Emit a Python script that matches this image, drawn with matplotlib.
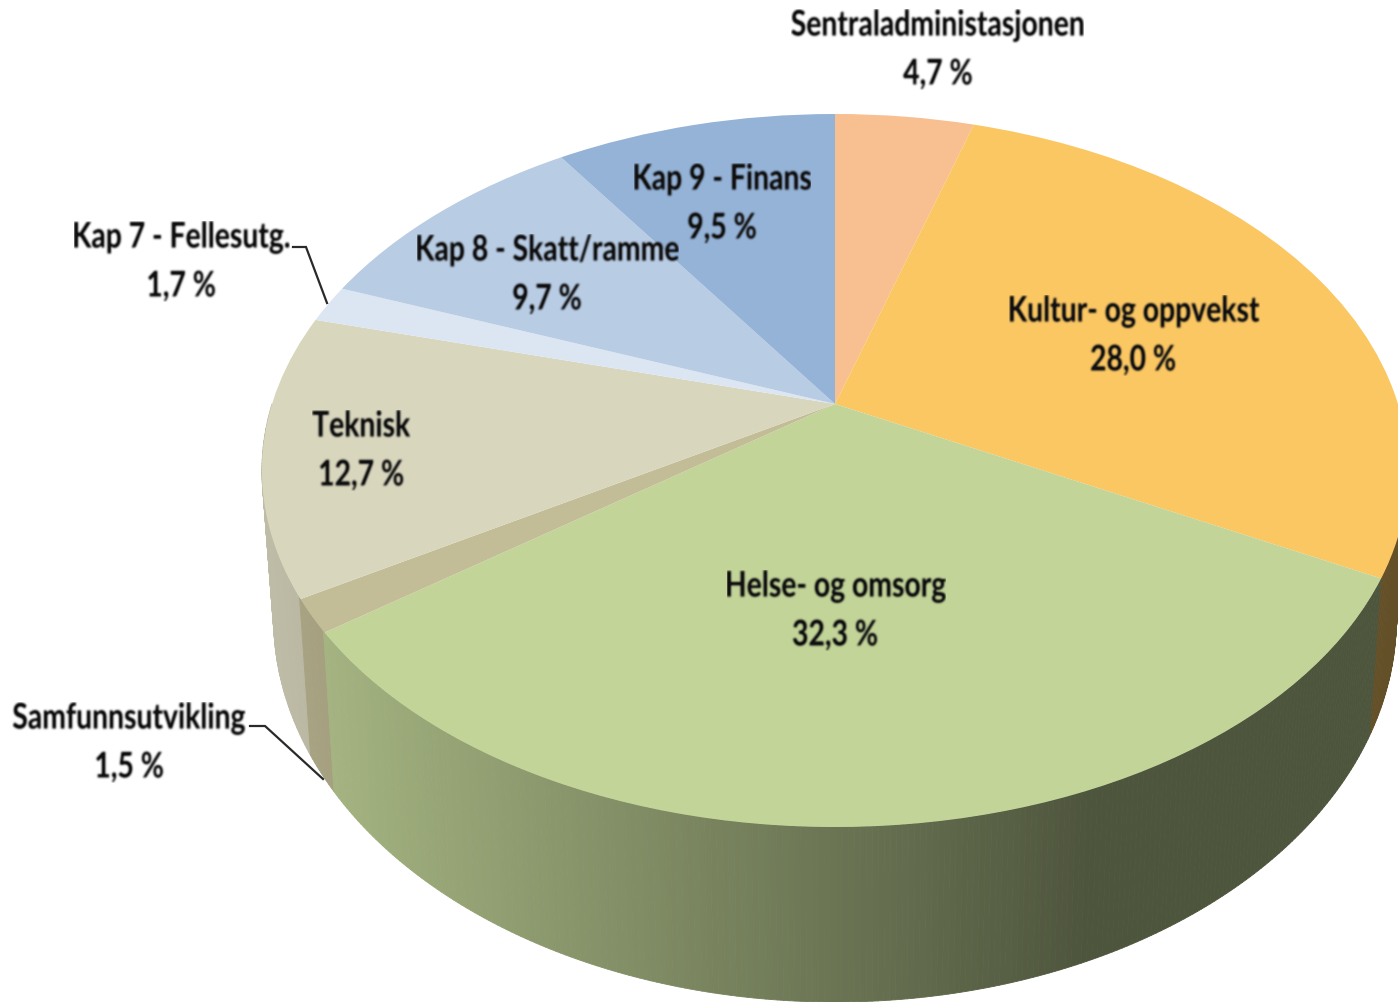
import numpy as np
import matplotlib
matplotlib.use("Agg")
import matplotlib.pyplot as plt
from matplotlib.transforms import Transform, Affine2D, Bbox
from matplotlib.collections import PolyCollection
from matplotlib.text import Text
from matplotlib.patheffects import AbstractPathEffect

names = ["Sentraladministasjonen", "Kultur- og oppvekst", "Helse- og omsorg", "Samfunnsutvikling",
         "Teknisk", "Kap 7 - Fellesutg.", "Kap 8 - Skatt/ramme", "Kap 9 - Finans"]
shares = [4.7, 28.0, 32.3, 1.5, 12.7, 1.7, 9.7, 9.5]
top_colors = ["#f8bf90", "#fbc763", "#c2d498", "#c3bd97", "#d9d6be", "#dce6f2", "#b8cce4", "#95b3d7"]
label_xy = [(938, 51), (1133, 337), (835, 612), (129, 744), (361, 452), (181, 263), (547, 276), (722, 205)]
leaders = [([293, 306, 327], [248, 248, 304]), ([250, 265, 323], [727, 727, 780])]

# perspective model of the pie
CX, CY, D, A, C = 835.0, 405.0, 563.0, -268.55, 0.1865
WALL_E, WALL_F, WALL_K = 144.8, 0.0024, 0.982
SHADE_X = [262, 333, 835, 1090, 1398]
SHADE_V = [0.88, 0.84, 0.55, 0.40, 0.40]
NARROW = 0.80


def project(u, v, wall=False):
    w = 1 + C * v + (WALL_F if wall else 0)
    x = D * u / w * (WALL_K if wall else 1) + CX
    y = (A * v + CY + (WALL_E if wall else 0)) / w
    return x, y


class Perspective(Transform):
    input_dims = output_dims = 2

    def transform_non_affine(self, values):
        values = np.asarray(values)
        x, y = project(values[:, 0], values[:, 1])
        return np.column_stack([x, y])


class Condense(AbstractPathEffect):
    def draw_path(self, renderer, gc, tpath, affine, rgbFace=None):
        ext = tpath.get_extents()
        cx = 0.5 * (ext.x0 + ext.x1)
        squeeze = Affine2D().translate(-cx, 0).scale(NARROW, 1).translate(cx, 0)
        renderer.draw_path(gc, tpath, squeeze + affine, rgbFace)


class NarrowText(Text):
    def get_window_extent(self, renderer=None, dpi=None):
        bb = super().get_window_extent(renderer, dpi)
        cx = 0.5 * (bb.x0 + bb.x1)
        hw = 0.5 * bb.width * NARROW
        return Bbox.from_extents(cx - hw, bb.y0, cx + hw, bb.y1)


def soften(arr, dpi):
    kernel = np.array([0.06, 0.24, 0.40, 0.24, 0.06])
    out = arr.copy()
    alpha = arr[:, :, 3]
    alpha = np.apply_along_axis(lambda m: np.convolve(m, kernel, mode="same"), 0, alpha)
    alpha = np.apply_along_axis(lambda m: np.convolve(m, kernel, mode="same"), 1, alpha)
    out[:, :, 0:3] = matplotlib.colors.to_rgb("#111111")
    out[:, :, 3] = np.clip(alpha * 1.1, 0, 1)
    return out, 0, 0


fig = plt.figure(figsize=(13.98, 10.03), dpi=100)
ax = fig.add_axes([0, 0, 1, 1])
wedges, _ = ax.pie(shares, colors=top_colors, startangle=90, counterclock=False, radius=1,
                   wedgeprops=dict(linewidth=0))
persp = Perspective()
for wd in wedges:
    wd.set_transform(persp + ax.transData)
    wd.set_zorder(3)

# side wall strips, back to front, only on the side facing the viewer
edges = np.cumsum([0] + shares) / 100 * 2 * np.pi
polys, cols, depth = [], [], []
for i, col in enumerate(top_colors):
    n = max(2, int((edges[i + 1] - edges[i]) / np.radians(0.5)))
    th = np.linspace(edges[i], edges[i + 1], n + 1)
    base = np.array(matplotlib.colors.to_rgb(col))
    for t0, t1 in zip(th[:-1], th[1:]):
        u = np.sin([t0, t1])
        v = np.cos([t0, t1])
        if v.mean() > 0:
            continue
        xa, ya = project(u, v)
        xb, yb = project(u, v, wall=True)
        polys.append([(xa[0], ya[0]), (xa[1], ya[1]), (xb[1], yb[1]), (xb[0], yb[0])])
        cols.append(base * np.interp(0.5 * (xa[0] + xa[1]), SHADE_X, SHADE_V))
        depth.append(-v.mean())
order = np.argsort(depth)
pc = PolyCollection([polys[k] for k in order], facecolors=[cols[k] for k in order],
                    edgecolors=[cols[k] for k in order], linewidths=0.6, zorder=2)
ax.add_collection(pc)

for (xs, ys) in leaders:
    ax.plot(xs, ys, color="#2a2a2a", lw=1.6, zorder=4, solid_joinstyle="miter")

for name, val, (x, y) in zip(names, shares, label_xy):
    value = f"{val:.1f}".replace(".", ",")
    t = NarrowText(x, y, f"{name}\n{value} %", ha="center", va="center", fontsize=25.5, family="Lato",
                   weight="bold", color="#111111", linespacing=1.65, zorder=5,
                   multialignment="center")
    t.set_path_effects([Condense()])
    t.set_agg_filter(soften)
    ax.add_artist(t)

ax.set_aspect("auto")
ax.set_xlim(0, 1398)
ax.set_ylim(1003, 0)
ax.axis("off")
fig.savefig("out.png", dpi=100)
